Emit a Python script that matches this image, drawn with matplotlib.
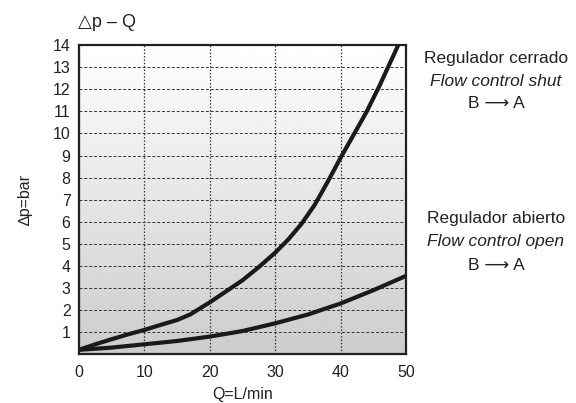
import numpy as np
import matplotlib.pyplot as plt

plt.rcParams["font.family"] = ["Liberation Sans", "DejaVu Sans"]

# curve data
q_shut = [0, 2.5, 5, 7.5, 10, 12.5, 15, 17, 20, 22.5, 25, 27.5, 30, 32, 34, 36, 38, 40, 42, 44, 46, 48.8]
dp_shut = [0.2, 0.45, 0.68, 0.9, 1.1, 1.33, 1.55, 1.8, 2.35, 2.85, 3.35, 3.95, 4.6, 5.2, 5.9, 6.75, 7.8, 8.9, 9.95, 11.0, 12.2, 14.0]
q_open = [0, 5, 10, 15, 20, 25, 30, 35, 40, 45, 50]
dp_open = [0.2, 0.3, 0.45, 0.6, 0.8, 1.05, 1.4, 1.8, 2.3, 2.9, 3.55]
x_ticks = [0, 10, 20, 30, 40, 50]
y_ticks = list(range(1, 15))

fig = plt.figure(figsize=(5.76, 4.03), dpi=100)
ax = fig.add_axes([0.137, 0.121, 0.568, 0.767])

# background gradient, light grey at bottom to white at top
grad = np.linspace(0.80, 1.0, 256).reshape(-1, 1)
ax.imshow(grad, extent=[0, 50, 0, 14], origin="lower", aspect="auto", cmap="gray",
          vmin=0, vmax=1, zorder=0)

ax.set_xlim(0, 50)
ax.set_ylim(0, 14)
ax.set_xticks(x_ticks)
ax.set_yticks(y_ticks)
ax.tick_params(length=0, labelsize=11.5, pad=6, labelcolor="#222222")
ax.tick_params(axis="x", pad=8)
ax.yaxis.grid(True, color="#333333", linestyle=(0, (3, 2)), linewidth=0.7, zorder=1)
ax.xaxis.grid(True, color="#333333", linestyle=(0, (1.2, 1.5)), linewidth=0.9, zorder=1)
for s in ax.spines.values():
    s.set_linewidth(1.6)
    s.set_color("#222222")

ax.plot(q_shut, dp_shut, color="#1a1a1a", linewidth=3, zorder=3, solid_joinstyle="round")
ax.plot(q_open, dp_open, color="#1a1a1a", linewidth=3, zorder=3, solid_joinstyle="round")

ax.set_xlabel("Q=L/min", fontsize=11.5, labelpad=5, color="#222222")
ax.set_ylabel("∆p=bar", fontsize=11.5, labelpad=14, color="#222222")
fig.text(0.135, 0.945, "△p – Q", fontsize=13, ha="left", va="center", color="#222222")

tx = 0.861
fs = 12.5
fig.text(tx, 0.856, "Regulador cerrado", fontsize=fs, ha="center", va="center", color="#222222")
fig.text(tx, 0.797, "Flow control shut", fontsize=fs, ha="center", va="center", style="italic", color="#222222")
fig.text(tx, 0.742, "B ⟶ A", fontsize=fs, ha="center", va="center", color="#222222")
fig.text(tx, 0.459, "Regulador abierto", fontsize=fs, ha="center", va="center", color="#222222")
fig.text(tx, 0.400, "Flow control open", fontsize=fs, ha="center", va="center", style="italic", color="#222222")
fig.text(tx, 0.342, "B ⟶ A", fontsize=fs, ha="center", va="center", color="#222222")

fig.savefig("out.png", dpi=100)
